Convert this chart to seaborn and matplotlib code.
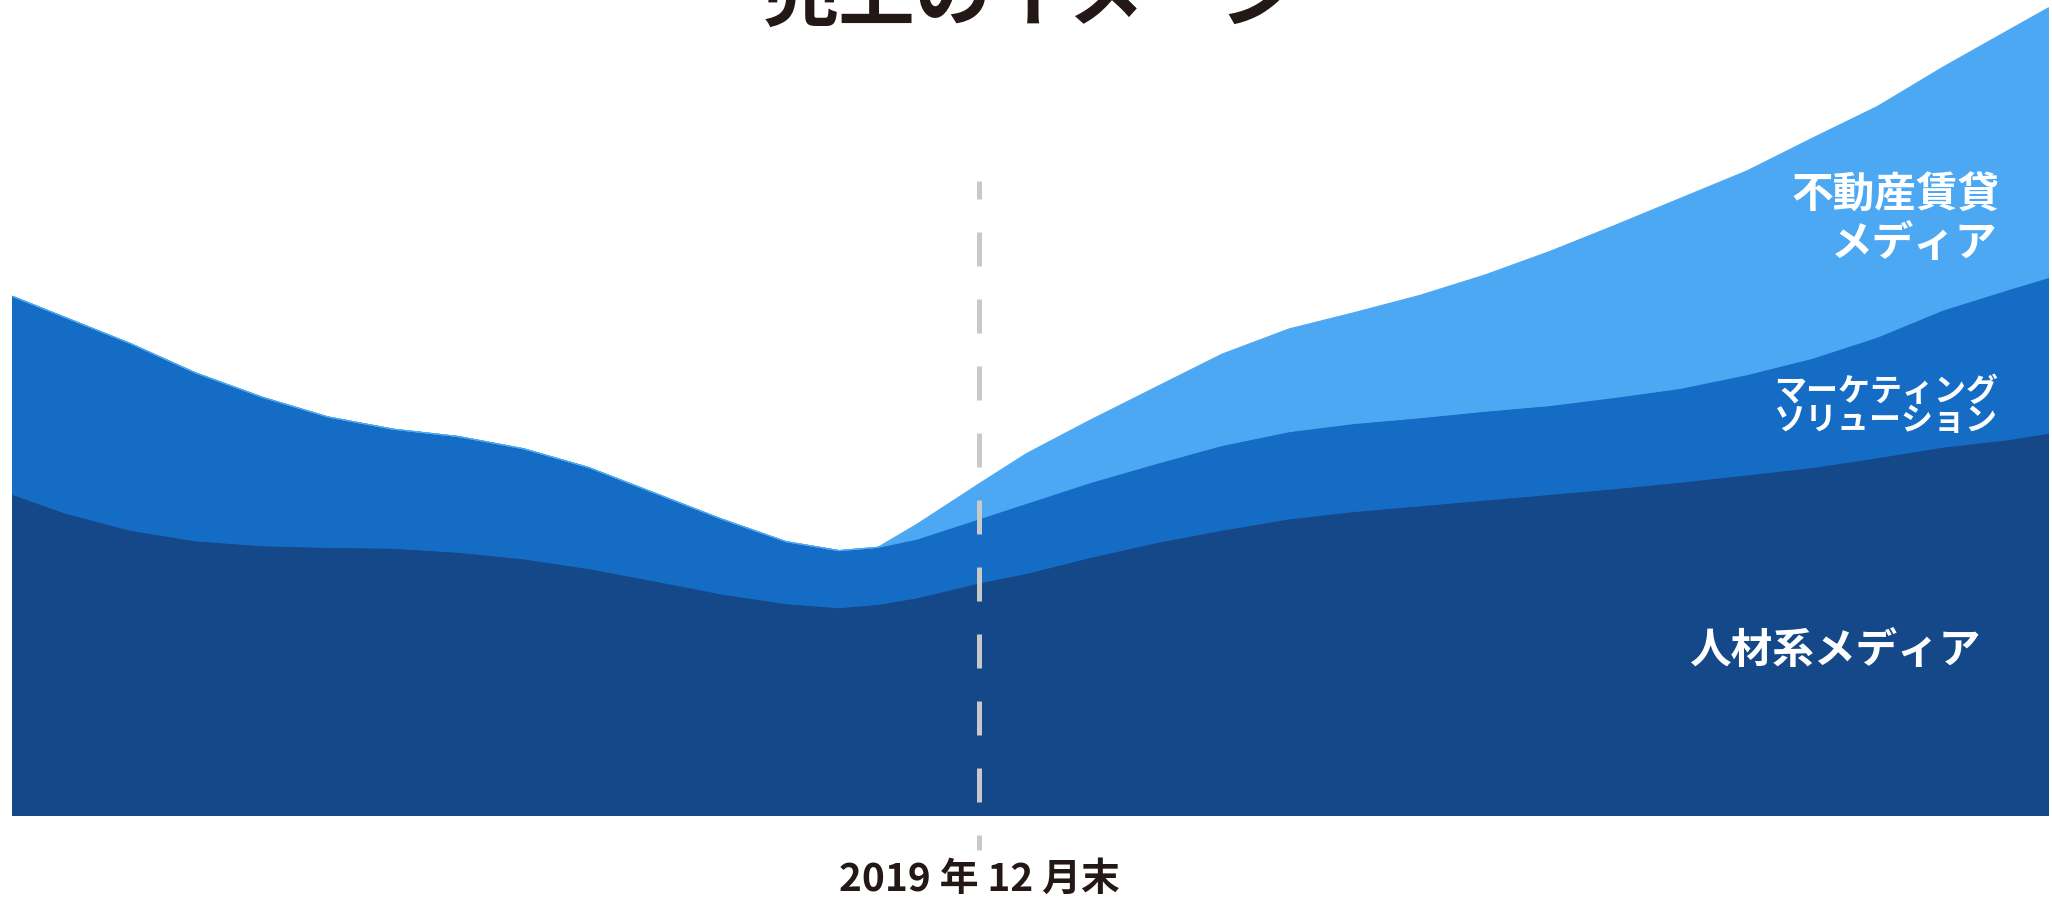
import numpy as np
import pandas as pd
import seaborn as sns
import matplotlib.pyplot as plt

# 相対時間軸 (0-100) と各事業の売上イメージ (積み上げ前の値)
x = [0.0, 2.6, 5.8, 9.0, 12.3, 15.5, 18.7, 21.9, 25.1, 28.3, 31.5, 34.8, 38.0, 40.6, 42.5, 44.4, 47.6,
     49.8, 53.0, 56.2, 59.4, 62.7, 65.9, 69.1, 72.3, 75.5, 78.7, 81.9, 85.2, 88.4, 91.6, 94.8, 98.0, 100]
jinzai = [39.4, 37.1, 35.0, 33.7, 33.1, 32.9, 32.8, 32.3, 31.5, 30.3, 28.8, 27.2, 26.0, 25.5, 25.9, 26.7, 28.6,
          29.7, 31.7, 33.5, 35.0, 36.4, 37.3, 38.0, 38.7, 39.4, 40.1, 40.9, 41.8, 42.7, 43.9, 45.2, 46.1, 46.9]
marketing = [24.3, 24.0, 22.9, 20.6, 18.2, 16.0, 14.6, 14.2, 13.5, 12.4, 10.8, 9.2, 7.6, 7.0, 7.0, 7.2, 7.9,
             8.6, 9.2, 9.7, 10.4, 10.7, 10.8, 10.8, 10.9, 10.9, 11.2, 11.5, 12.3, 13.4, 14.8, 16.8, 18.4, 19.1]
fudosan = [0, 0, 0, 0, 0, 0, 0, 0, 0, 0, 0, 0, 0, 0, 0, 1.8, 4.4,
           6.1, 7.7, 9.4, 11.2, 12.6, 13.6, 15.0, 16.7, 18.9, 21.1, 23.3, 25.0, 27.0, 28.3, 29.8, 31.8, 33.1]

marker_x = 47.5
marker_label = "2019 年 12 月末"
title = "売上のイメージ"
colors = ["#144889", "#156cc4", "#4da8f3"]

df = pd.DataFrame({"x": x, "人材系メディア": jinzai,
                   "マーケティングソリューション": marketing, "不動産賃貸メディア": fudosan})

sns.set_theme(style="white")
plt.rcParams['font.family'] = ['Noto Sans CJK JP', 'DejaVu Sans']

fig = plt.figure(figsize=(20.52, 9), dpi=100)
ax = fig.add_axes([12 / 2052, 85 / 900, 2036 / 2052, 815 / 900])

polys = ax.stackplot(df["x"], df["人材系メディア"], df["マーケティングソリューション"],
                     df["不動産賃貸メディア"], colors=colors)
for p, c in zip(polys, colors):
    p.set_edgecolor(c)
    p.set_linewidth(0.8)

# 2019年12月末の区切り線
ax.axvline(marker_x, ymin=-0.043, ymax=0.778, color="#c8c9cb", lw=3.6,
           linestyle=(3.8, (6.8, 6.6)), clip_on=False, zorder=5)

ax.set_xlim(0, 100)
ax.set_ylim(0, 100)
ax.set_yticks([])
ax.set_xticks([marker_x], [marker_label])
ax.tick_params(axis='x', length=0, pad=32, labelsize=28, labelcolor="#231815")
for t in ax.get_xticklabels():
    t.set_fontweight("bold")
sns.despine(ax=ax, left=True, bottom=True)
ax.set_facecolor("none")

fig.text(1030 / 2052, 1 - 20 / 900, title, ha="center", va="baseline",
         fontsize=55, fontweight="bold", color="#231815")

lab = dict(color="white", fontweight="bold", ha="right", va="center")
fig.text(2000 / 2052, 1 - 196 / 900, "不動産賃貸", fontsize=30, **lab)
fig.text(1997 / 2052, 1 - 244 / 900, "メディア", fontsize=30, **lab)
fig.text(1998 / 2052, 1 - 392 / 900, "マーケティング", fontsize=23, **lab)
fig.text(1998 / 2052, 1 - 421 / 900, "ソリューション", fontsize=23, **lab)
fig.text(1980 / 2052, 1 - 651 / 900, "人材系メディア", fontsize=30, **lab)

fig.savefig("out.png", dpi=100)
